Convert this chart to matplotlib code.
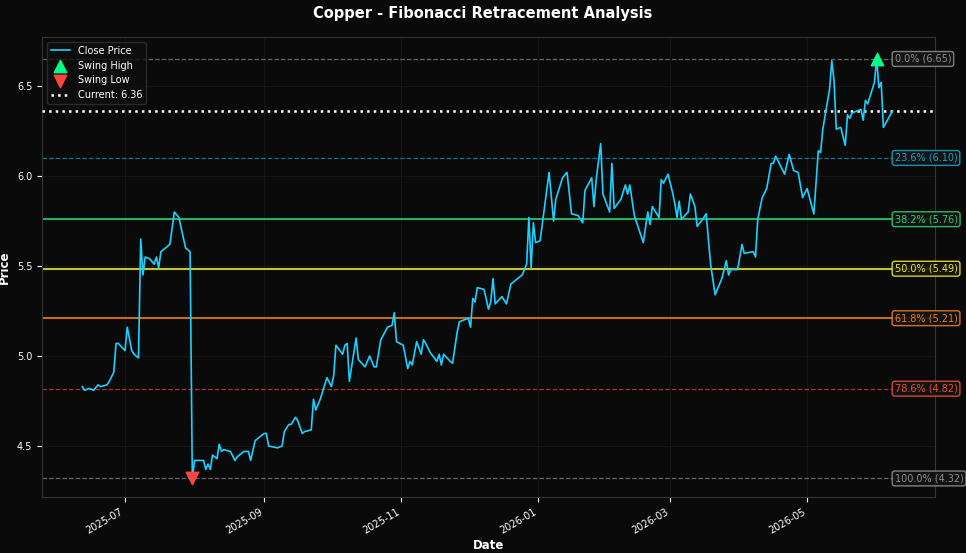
import matplotlib
matplotlib.use("Agg")
import matplotlib.pyplot as plt
import matplotlib.dates as mdates
import pandas as pd

dates = ["2025-06-12","2025-06-13","2025-06-15","2025-06-17","2025-06-19","2025-06-20","2025-06-23","2025-06-24","2025-06-26","2025-06-27","2025-06-28","2025-07-01","2025-07-02","2025-07-04","2025-07-05","2025-07-07","2025-07-08","2025-07-09","2025-07-10","2025-07-12","2025-07-14","2025-07-15","2025-07-16","2025-07-17","2025-07-21","2025-07-23","2025-07-25","2025-07-28","2025-07-30","2025-07-31",
"2025-08-01","2025-08-05","2025-08-06","2025-08-07","2025-08-08","2025-08-09","2025-08-11","2025-08-12","2025-08-13","2025-08-14","2025-08-17","2025-08-19","2025-08-20","2025-08-23","2025-08-25","2025-08-26","2025-08-28","2025-09-01","2025-09-02","2025-09-03","2025-09-07","2025-09-09","2025-09-10","2025-09-12","2025-09-13","2025-09-15","2025-09-16","2025-09-18","2025-09-19","2025-09-22","2025-09-23","2025-09-24","2025-09-26","2025-09-27","2025-09-29",
"2025-10-01","2025-10-02","2025-10-03","2025-10-06","2025-10-07","2025-10-08","2025-10-09","2025-10-12","2025-10-13","2025-10-16","2025-10-18","2025-10-20","2025-10-21","2025-10-23","2025-10-26","2025-10-28","2025-10-29","2025-10-30","2025-11-02","2025-11-04","2025-11-05","2025-11-06","2025-11-08","2025-11-10","2025-11-11","2025-11-12","2025-11-14","2025-11-17","2025-11-18","2025-11-19","2025-11-20","2025-11-23","2025-11-24","2025-11-26","2025-11-27","2025-11-29",
"2025-12-01","2025-12-02","2025-12-03","2025-12-04","2025-12-05","2025-12-08","2025-12-10","2025-12-11","2025-12-12","2025-12-13","2025-12-16","2025-12-18","2025-12-20","2025-12-22","2025-12-25","2025-12-27","2025-12-28","2025-12-29","2025-12-30","2025-12-31",
"2026-01-02","2026-01-06","2026-01-08","2026-01-09","2026-01-12","2026-01-14","2026-01-16","2026-01-19","2026-01-21","2026-01-22","2026-01-25","2026-01-26","2026-01-27","2026-01-29","2026-01-30","2026-02-02","2026-02-03","2026-02-04","2026-02-07","2026-02-09","2026-02-10","2026-02-11","2026-02-13","2026-02-17","2026-02-19","2026-02-20","2026-02-21","2026-02-24","2026-02-25","2026-02-26","2026-02-28",
"2026-03-02","2026-03-03","2026-03-04","2026-03-05","2026-03-06","2026-03-09","2026-03-10","2026-03-12","2026-03-13","2026-03-16","2026-03-17","2026-03-19","2026-03-21","2026-03-24","2026-03-26","2026-03-27","2026-03-28","2026-03-31","2026-04-02","2026-04-03","2026-04-07","2026-04-08","2026-04-09","2026-04-11","2026-04-13","2026-04-15","2026-04-16","2026-04-17","2026-04-21","2026-04-23","2026-04-25","2026-04-27","2026-04-29",
"2026-05-01","2026-05-04","2026-05-06","2026-05-07","2026-05-08","2026-05-11","2026-05-12","2026-05-13","2026-05-14","2026-05-16","2026-05-18","2026-05-19","2026-05-20","2026-05-21","2026-05-25","2026-05-26","2026-05-27","2026-05-28","2026-05-31","2026-06-01","2026-06-02","2026-06-03","2026-06-04","2026-06-08"]
prices = [4.83,4.81,4.82,4.81,4.84,4.83,4.84,4.86,4.91,5.07,5.07,5.03,5.16,5.03,5.01,4.99,5.65,5.45,5.55,5.54,5.51,5.55,5.49,5.58,5.62,5.80,5.77,5.60,5.58,4.32,
4.42,4.42,4.37,4.40,4.37,4.45,4.43,4.51,4.47,4.48,4.47,4.42,4.44,4.47,4.47,4.42,4.53,4.57,4.57,4.50,4.49,4.50,4.58,4.62,4.62,4.66,4.64,4.57,4.58,4.59,4.76,4.70,4.76,4.80,4.88,
4.83,4.89,5.06,5.01,5.06,5.07,4.86,5.10,4.98,4.94,5.00,4.94,4.94,5.09,5.16,5.17,5.24,5.08,5.06,4.93,4.97,4.95,5.08,5.01,5.09,5.07,5.02,4.97,5.01,4.95,5.01,4.97,4.96,5.13,5.19,5.20,
5.21,5.16,5.32,5.30,5.38,5.37,5.26,5.30,5.43,5.29,5.33,5.29,5.40,5.42,5.45,5.51,5.77,5.49,5.74,5.63,
5.64,6.02,5.75,5.87,5.99,6.02,5.79,5.78,5.74,5.92,5.99,5.83,5.98,6.18,5.90,5.80,6.07,5.82,5.87,5.95,5.90,5.95,5.78,5.63,5.80,5.73,5.83,5.77,5.98,5.96,6.01,
5.91,5.85,5.77,5.86,5.76,5.80,5.90,5.83,5.72,5.77,5.79,5.51,5.34,5.43,5.53,5.45,5.48,5.48,5.62,5.57,5.58,5.55,5.76,5.88,5.93,6.07,6.07,6.11,6.01,6.12,6.03,6.02,5.88,
5.93,5.79,6.14,6.13,6.26,6.48,6.64,6.53,6.26,6.27,6.17,6.34,6.32,6.35,6.37,6.31,6.42,6.40,6.52,6.65,6.49,6.52,6.27,6.36]

swing_high = 6.65
swing_low = 4.32
fib_ratios = [0.0, 0.236, 0.382, 0.5, 0.618, 0.786, 1.0]
fib_colors = ["#8c8c8c", "#1f9fc4", "#2ecc71", "#e8e82a", "#e67e22", "#e74c3c", "#8c8c8c"]
fib_styles = ["--", "--", "-", "-", "-", "--", "--"]
current = 6.36

d = pd.to_datetime(dates)
bg = "#0a0a0a"
fig = plt.figure(figsize=(9.66, 5.53), dpi=100, facecolor=bg)
ax = fig.add_axes([42/966, 1-497/553, (935-42)/966, (497-37)/553], facecolor=bg)

ax.plot(d, prices, color="#1ad1ff", lw=1.2, label="Close Price", zorder=4)
ih = prices.index(max(prices)); il = prices.index(min(prices))
ax.scatter([d[ih]], [prices[ih]], marker="^", s=80, color="#00ff88", label="Swing High", zorder=5)
ax.scatter([d[il]], [prices[il]], marker="v", s=80, color="#ff4444", label="Swing Low", zorder=5)

xlab = d[-1] + pd.Timedelta(days=1)
for r, c, ls in zip(fib_ratios, fib_colors, fib_styles):
    lvl = swing_high - r * (swing_high - swing_low)
    lw = 1.5 if ls == "-" else 0.9
    ax.axhline(lvl, color=c, ls=ls, lw=lw, alpha=0.85 if ls == "-" else 0.7, zorder=2)
    ax.text(xlab, lvl, f"{r*100:.1f}% ({lvl:.2f})", color=c, fontsize=7, va="center", ha="left",
            bbox=dict(boxstyle="round,pad=0.25", fc="#151515", ec=c, lw=1, alpha=0.9), zorder=6)

ax.axhline(current, color="white", ls=":", lw=1.8, label=f"Current: {current:.2f}", zorder=3)

ax.set_xlim(pd.Timestamp("2025-05-25"), pd.Timestamp("2026-06-27"))
ax.set_ylim(4.217, 6.772)
ax.set_yticks([4.5, 5.0, 5.5, 6.0, 6.5])
ax.xaxis.set_major_locator(mdates.MonthLocator(bymonth=[1,3,5,7,9,11]))
ax.xaxis.set_major_formatter(mdates.DateFormatter("%Y-%m"))
for lab in ax.get_xticklabels():
    lab.set_rotation(30); lab.set_ha("right")
ax.tick_params(colors="white", labelsize=7)
ax.grid(True, color="#2a2a2a", lw=0.5, alpha=0.5)
for s in ax.spines.values():
    s.set_color("#333333")
ax.set_xlabel("Date", color="white", fontsize=8.5, fontweight="bold", labelpad=2)
ax.set_ylabel("Price", color="white", fontsize=8.5, fontweight="bold", labelpad=4)
fig.suptitle("Copper - Fibonacci Retracement Analysis", color="white", fontsize=10.5, fontweight="bold", y=0.99)
leg = ax.legend(loc="upper left", fontsize=7, facecolor="#0f0f0f", edgecolor="#333333", labelcolor="white")
fig.savefig("out.png", dpi=100, facecolor=bg)
